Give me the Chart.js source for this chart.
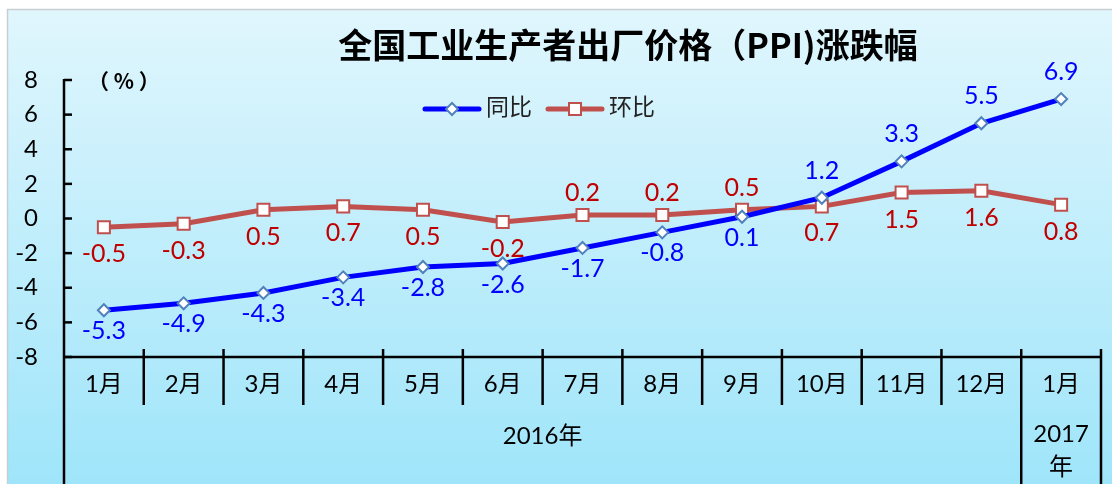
<!DOCTYPE html>
<html>
<head>
<meta charset="utf-8">
<script src="https://cdn.jsdelivr.net/npm/chart.js@4/dist/chart.umd.min.js"></script>
<style>
  html, body { margin: 0; padding: 0; background: #fff; }
  #ppi { display: block; }
</style>
</head>
<body>
<canvas id="ppi" width="1112" height="484"></canvas>
<script>
const months = ["1月", "2月", "3月", "4月", "5月", "6月", "7月", "8月", "9月", "10月", "11月", "12月", "1月"];
const years = [{ text: ["2016年"], from: 0, to: 11 }, { text: ["2017", "年"], from: 12, to: 12 }];
const yoy = [-5.3, -4.9, -4.3, -3.4, -2.8, -2.6, -1.7, -0.8, 0.1, 1.2, 3.3, 5.5, 6.9];
const mom = [-0.5, -0.3, 0.5, 0.7, 0.5, -0.2, 0.2, 0.2, 0.5, 0.7, 1.5, 1.6, 0.8];
const yTicks = [8, 6, 4, 2, 0, -2, -4, -6, -8];

// label side: 1 = above, -1 = below
const yoySide = [-1, -1, -1, -1, -1, -1, -1, -1, -1, 1, 1, 1, 1];
const momSide = [-1, -1, -1, -1, -1, -1, 1, 1, 1, -1, -1, -1, -1];

const NUM_FONT = '"Lato", "Noto Sans CJK SC", sans-serif';
const CJK_FONT = '"Noto Sans CJK SC", sans-serif';

const decor = {
  id: "decor",
  beforeDraw(chart) {
    const ctx = chart.ctx;
    ctx.save();
    ctx.fillStyle = "#fff";
    ctx.fillRect(0, 0, chart.width, chart.height);
    const g = ctx.createLinearGradient(0, 10, 0, chart.height);
    g.addColorStop(0, "#e0f6fd");
    g.addColorStop(1, "#9fe5fa");
    ctx.fillStyle = g;
    ctx.fillRect(8, 10, chart.width - 8, chart.height - 10);
    ctx.strokeStyle = "#c8cfd2";
    ctx.lineWidth = 1.5;
    ctx.beginPath();
    ctx.moveTo(7.5, chart.height);
    ctx.lineTo(7.5, 9.5);
    ctx.lineTo(chart.width, 9.5);
    ctx.stroke();

    // title
    ctx.fillStyle = "#000";
    ctx.font = "bold 34px " + CJK_FONT;
    ctx.textAlign = "center";
    ctx.textBaseline = "middle";
    ctx.fillText("全国工业生产者出厂价格（PPI)涨跌幅", 628, 45);

    ctx.font = "bold 21px " + CJK_FONT;
    ctx.textAlign = "left";
    ctx.fillText("（ % ）", 88, 81);

    // legend
    const items = [
      { x: 425, color: "#0000ff", style: "rectRot", border: "#4f81bd", text: "同比" },
      { x: 548, color: "#c0504d", style: "rect", border: "#c0504d", text: "环比" }
    ];
    items.forEach((it) => {
      ctx.strokeStyle = it.color;
      ctx.lineWidth = 5;
      ctx.lineCap = "round";
      ctx.beginPath();
      ctx.moveTo(it.x, 109);
      ctx.lineTo(it.x + 54, 109);
      ctx.stroke();
      ctx.fillStyle = "#fff";
      ctx.strokeStyle = it.border;
      ctx.lineWidth = 2;
      Chart.helpers.drawPoint(ctx, { pointStyle: it.style, radius: it.style === "rect" ? 8.5 : 6, rotation: 0, borderWidth: 2 }, it.x + 27, 109);
      ctx.fillStyle = "#222";
      ctx.font = "23px " + CJK_FONT;
      ctx.textAlign = "left";
      ctx.textBaseline = "middle";
      ctx.fillText(it.text, it.x + 61, 106);
    });
    ctx.restore();
  },
  beforeDatasetsDraw(chart) {
    const ctx = chart.ctx;
    const x = chart.scales.x, y = chart.scales.y;
    const left = chart.chartArea.left, right = chart.chartArea.right;
    const top = chart.chartArea.top, bottom = chart.chartArea.bottom;
    const step = (right - left) / months.length;
    ctx.save();
    ctx.strokeStyle = "#000";
    ctx.lineWidth = 2.5;
    ctx.lineCap = "butt";
    // y axis
    ctx.beginPath();
    ctx.moveTo(left, top - 1);
    ctx.lineTo(left, chart.height);
    ctx.stroke();
    ctx.font = "24px " + NUM_FONT;
    ctx.fillStyle = "#000";
    ctx.textAlign = "right";
    ctx.textBaseline = "middle";
    yTicks.forEach((v) => {
      const py = y.getPixelForValue(v);
      ctx.beginPath();
      ctx.moveTo(left, py);
      ctx.lineTo(left + 8, py);
      ctx.stroke();
      ctx.fillText(String(v), 38, py);
    });
    // x axis
    ctx.beginPath();
    ctx.moveTo(left, bottom);
    ctx.lineTo(right, bottom);
    ctx.stroke();
    const yearEdges = new Set([0, 12, 13]);
    for (let k = 1; k <= months.length; k++) {
      const px = left + k * step;
      ctx.beginPath();
      ctx.moveTo(px, bottom - 8);
      ctx.lineTo(px, yearEdges.has(k) ? chart.height : bottom + 48);
      ctx.stroke();
    }
    ctx.font = "24px " + NUM_FONT;
    ctx.textAlign = "center";
    months.forEach((m, i) => {
      ctx.fillText(m, x.getPixelForValue(i), bottom + 27);
    });
    years.forEach((yr) => {
      const cx = (x.getPixelForValue(yr.from) + x.getPixelForValue(yr.to)) / 2;
      if (yr.text.length === 1) {
        ctx.fillText(yr.text[0], cx, bottom + 79);
      } else {
        yr.text.forEach((t, j) => ctx.fillText(t, cx, bottom + 77 + j * 33));
      }
    });
    ctx.restore();
  },
  afterDatasetsDraw(chart) {
    const ctx = chart.ctx;
    ctx.save();
    ctx.font = "25px " + NUM_FONT;
    ctx.textAlign = "center";
    ctx.textBaseline = "middle";
    const sets = [
      { idx: 0, side: yoySide, color: "#0000ff", above: 27, below: 21 },
      { idx: 1, side: momSide, color: "#c00000", above: 22, below: 27 }
    ];
    sets.forEach((s) => {
      const meta = chart.getDatasetMeta(s.idx);
      const data = chart.data.datasets[s.idx].data;
      ctx.fillStyle = s.color;
      meta.data.forEach((pt, i) => {
        const dy = s.side[i] > 0 ? -s.above : s.below;
        ctx.fillText(data[i].toFixed(1), pt.x, pt.y + dy);
      });
    });
    ctx.restore();
  }
};

new Chart(document.getElementById("ppi"), {
  type: "line",
  data: {
    labels: months.map((m, i) => i),
    datasets: [
      {
        label: "同比",
        data: yoy,
        borderColor: "#0000ff",
        borderWidth: 5,
        pointStyle: "rectRot",
        pointRadius: 6,
        pointBackgroundColor: "#fff",
        pointBorderColor: "#4f81bd",
        pointBorderWidth: 2,
        tension: 0
      },
      {
        label: "环比",
        data: mom,
        borderColor: "#c0504d",
        borderWidth: 5,
        pointStyle: "rect",
        pointRadius: 8.5,
        pointBackgroundColor: "#fff",
        pointBorderColor: "#c0504d",
        pointBorderWidth: 2,
        tension: 0
      }
    ]
  },
  options: {
    responsive: false,
    animation: false,
    layout: { padding: { left: 64, right: 11, top: 80, bottom: 127 } },
    plugins: { legend: { display: false }, title: { display: false }, tooltip: { enabled: false } },
    scales: {
      x: { type: "category", offset: true, display: false },
      y: { min: -8, max: 8, display: false }
    }
  },
  plugins: [decor]
});
</script>
</body>
</html>
